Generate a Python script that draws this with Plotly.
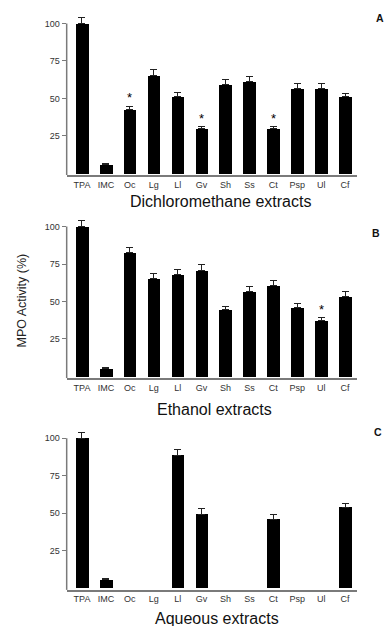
import plotly.graph_objects as go

categories = ["TPA", "IMC", "Oc", "Lg", "Ll", "Gv", "Sh", "Ss", "Ct", "Psp", "Ul", "Cf"]

# Panel A: Dichloromethane extracts
dcm_values = [100, 5.9, 42.8, 65.5, 51.3, 29.7, 59.0, 61.5, 29.7, 56.6, 56.6, 51.0]
dcm_errors = [4.0, 0.6, 2.0, 4.0, 2.7, 1.5, 3.6, 2.9, 1.5, 3.4, 3.4, 2.3]
dcm_signif = ["Oc", "Gv", "Ct"]

# Panel B: Ethanol extracts
eth_values = [100, 5.4, 82.8, 65.5, 67.7, 70.6, 44.8, 56.6, 60.4, 46.0, 37.0, 53.5]
eth_errors = [4.0, 0.6, 3.2, 3.5, 3.8, 4.2, 2.2, 3.4, 3.6, 2.8, 2.3, 3.0]
eth_signif = ["Ul"]

# Panel C: Aqueous extracts
aq_values = [100, 5.4, None, None, 88.8, 49.2, None, None, 45.9, None, None, 53.8]
aq_errors = [3.8, 1.0, None, None, 3.8, 4.0, None, None, 2.9, None, None, 2.7]
aq_signif = []

panel_titles = ["Dichloromethane extracts", "Ethanol extracts", "Aqueous extracts"]
panel_letters = ["A", "B", "C"]
y_ticks = [25, 50, 75, 100]
y_title = "MPO Activity (%)"

panels = [
    (dcm_values, dcm_errors, dcm_signif),
    (eth_values, eth_errors, eth_signif),
    (aq_values, aq_errors, aq_signif),
]

W, H = 385, 626
y_domains = [[0.7203, 0.9768], [0.3958, 0.6524], [0.0577, 0.3142]]
x_domain = [0.1732, 0.9273]
y_range = [-1.2, 106]
x_range = [-0.64, 11.5]
title_y_px = [201.5, 409, 618]
title_x_px = [220, 214, 217]
letter_pos = [(380, 18), (376, 233), (378, 432)]

fig = go.Figure()
axis_grey = "#7a7a7a"
font_family = "Liberation Sans, Arial, sans-serif"

for i, (vals, errs, sig) in enumerate(panels):
    n = i + 1
    xa = "x" if n == 1 else f"x{n}"
    ya = "y" if n == 1 else f"y{n}"
    fig.add_trace(go.Bar(
        x=categories, y=vals, width=0.53,
        marker=dict(color="black", line=dict(width=0)),
        error_y=dict(type="data", array=[e if e is not None else 0 for e in errs],
                     arrayminus=[0] * len(errs), symmetric=False,
                     color="#222", thickness=1, width=3.5),
        xaxis=xa, yaxis=ya, showlegend=False,
    ))
    xkey = "xaxis" if n == 1 else f"xaxis{n}"
    ykey = "yaxis" if n == 1 else f"yaxis{n}"
    fig.layout[xkey] = dict(
        domain=x_domain, anchor=ya, range=x_range, type="category",
        showline=True, linecolor=axis_grey, linewidth=1.5,
        ticks="", showgrid=False, zeroline=False,
        tickfont=dict(size=9, color="#333", family=font_family),
        categoryorder="array", categoryarray=categories,
    )
    fig.layout[ykey] = dict(
        domain=y_domains[i], anchor=xa, range=y_range,
        showline=False, showgrid=False, zeroline=False,
        tickvals=y_ticks, ticks="outside", ticklen=4, tickcolor=axis_grey,
        tickwidth=1, tickfont=dict(size=9, color="#333", family=font_family),
    )
    # y axis line from bottom to 100
    fig.add_shape(type="line", xref=f"{xa} domain", yref=ya,
                  x0=0, x1=0, y0=y_range[0], y1=100,
                  line=dict(color=axis_grey, width=1.5))
    # significance asterisks
    for c in sig:
        k = categories.index(c)
        fig.add_annotation(x=c, y=vals[k] + errs[k], xref=xa, yref=ya,
                           text="*", showarrow=False, yanchor="bottom",
                           yshift=-1,
                           font=dict(size=13, color="black", family=font_family))
    # panel title
    fig.add_annotation(x=title_x_px[i] / W, y=1 - title_y_px[i] / H,
                       xref="paper", yref="paper", text=panel_titles[i],
                       showarrow=False, xanchor="center", yanchor="middle",
                       font=dict(size=16, color="#111", family=font_family))
    # panel letter
    lx, ly = letter_pos[i]
    fig.add_annotation(x=lx / W, y=1 - ly / H, xref="paper", yref="paper",
                       text=f"<b>{panel_letters[i]}</b>", showarrow=False,
                       xanchor="center", yanchor="middle",
                       font=dict(size=10.5, color="#111", family=font_family))

fig.add_annotation(x=21.5 / W, y=1 - 301 / H, xref="paper", yref="paper",
                   text=y_title, textangle=-90, showarrow=False,
                   xanchor="center", yanchor="middle",
                   font=dict(size=12.5, color="#222", family=font_family))

fig.update_layout(
    width=W, height=H, margin=dict(l=0, r=0, t=0, b=0),
    plot_bgcolor="white", paper_bgcolor="white",
    bargap=0, font=dict(family=font_family),
)

fig.write_html(
    "out.html",
    config={"displayModeBar": False},
    post_script="document.body.style.margin='0';document.body.style.overflow='hidden';",
)
